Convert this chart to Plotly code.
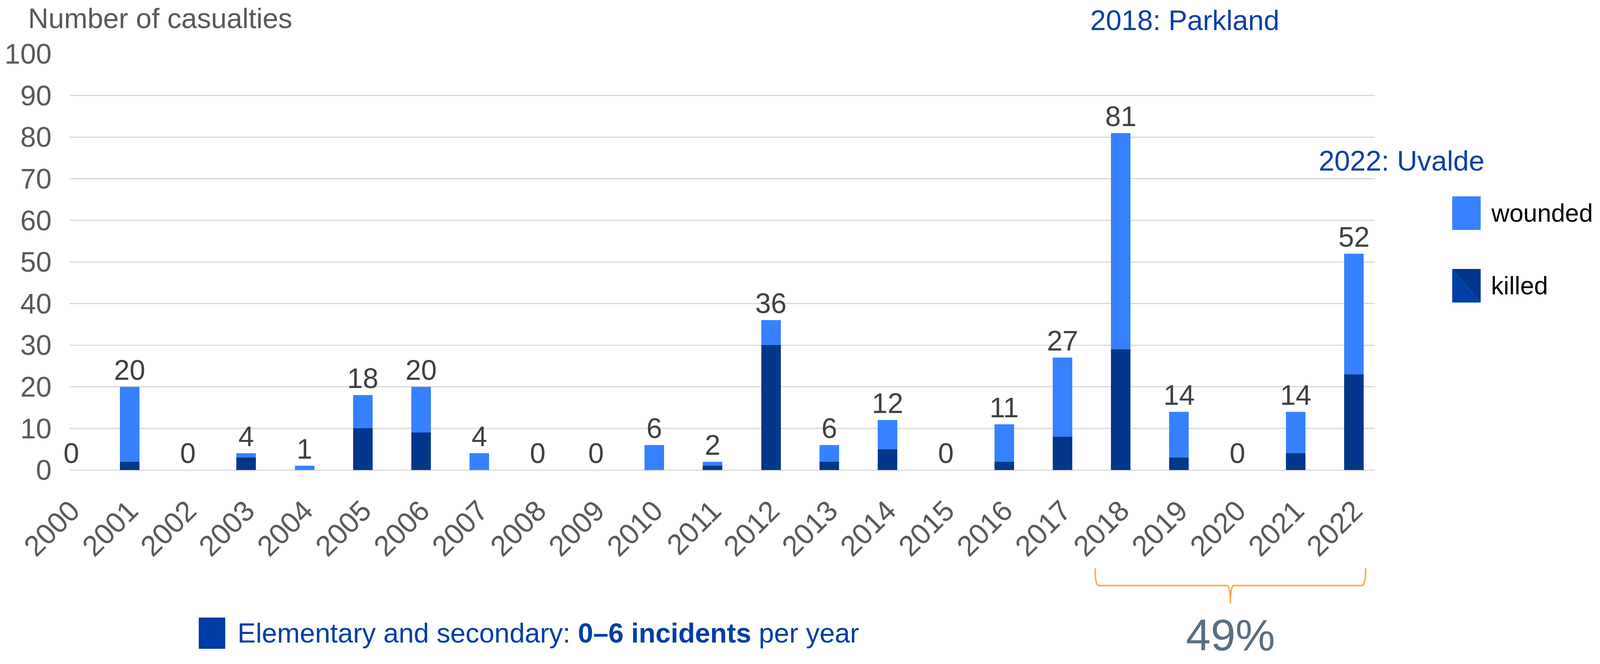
import plotly.graph_objects as go

years = list(range(2000, 2023))
total = [0, 20, 0, 4, 1, 18, 20, 4, 0, 0, 6, 2, 36, 6, 12, 0, 11, 27, 81, 14, 0, 14, 52]
killed = [0, 2, 0, 3, 0, 10, 9, 0, 0, 0, 0, 1, 30, 2, 5, 0, 2, 8, 29, 3, 0, 4, 23]
wounded = [t - k for t, k in zip(total, killed)]
y_ticks = list(range(0, 101, 10))

C_WOUND = "#3681FF"
C_KILL = "#00378A"
C_KILL2 = "#003FA8"
FONT = "Liberation Sans, Arial, sans-serif"

# reference layout (pixels of a 4817 x 1701 design), scaled to the 4096-wide viewport
REF_W = 4817
W, H = 4096, 1701
S = W / REF_W
REF_L, REF_RIGHT = 200, 4140
T, BOT = 138, 1204
L = round(REF_L * S)
R = W - round(REF_RIGHT * S)
B = H - BOT
FS = 72


def px(xp):  # reference x pixel -> paper
    return (xp - REF_L) / (REF_RIGHT - REF_L)


def py(yp):  # reference y pixel -> paper
    return (BOT - yp) / (BOT - T)


fig = go.Figure()
fig.add_trace(go.Bar(x=years, y=killed, name="killed", marker_color=C_KILL,
                     width=0.335, marker_line_width=0))
fig.add_trace(go.Bar(x=years, y=wounded, name="wounded", marker_color=C_WOUND,
                     width=0.335, marker_line_width=0))
fig.add_trace(go.Scatter(x=years, y=total, mode="text", text=[str(t) for t in total],
                         textposition="top center", cliponaxis=False,
                         textfont=dict(size=FS, color="#404040", family=FONT),
                         showlegend=False, hoverinfo="skip"))

shapes = []
annotations = []


def note(x, y, text, size, color, xanchor="center", xref="paper"):
    annotations.append(dict(x=x, y=y, xref=xref, yref="paper", showarrow=False,
                            xanchor=xanchor, yanchor="middle", text=text,
                            font=dict(size=size, color=color, family=FONT)))


note(px(73), py(47), "Number of casualties", FS, "#595959", xanchor="left")
note(px(3566), py(52), "2018: Parkland", FS, "#0B3FA8")
note(px(4220), py(412), "2022: Uvalde", FS, "#0B3FA8")


def square(x0, y0, x1, y1, c_lower, c_upper):
    a, b, c, d = px(x0), py(y0), px(x1), py(y1)
    shapes.append(dict(type="path", xref="paper", yref="paper",
                       path=f"M {a},{b} L {a},{d} L {c},{d} Z",
                       fillcolor=c_lower, line=dict(width=0)))
    shapes.append(dict(type="path", xref="paper", yref="paper",
                       path=f"M {a},{b} L {c},{b} L {c},{d} Z",
                       fillcolor=c_upper, line=dict(width=0)))


square(4373, 503, 4459, 589, C_WOUND, C_WOUND)
square(4373, 689, 4459, 775, C_KILL2, C_KILL)
note(px(4488), py(546), "wounded", 64, "#000000", xanchor="left")
note(px(4488), py(732), "killed", 64, "#000000", xanchor="left")

shapes.append(dict(type="rect", xref="paper", yref="paper",
                   x0=px(590), x1=px(670), y0=py(1582), y1=py(1662),
                   fillcolor="#003DA5", line=dict(width=0)))
note(px(704), py(1622), "Elementary and secondary: <b>0–6 incidents</b> per year",
     70, "#003DA5", xanchor="left")

# bracket spanning 2018-2022
xl, xr = 2017.56, 2022.2
xc = (xl + xr) / 2
yt, yh, ytip = py(1456), py(1500), py(1546)
dx = 0.06
shapes.append(dict(type="path", xref="x", yref="paper",
                   path=(f"M {xl},{yt} Q {xl},{yh} {xl+dx},{yh} L {xc-dx},{yh} "
                         f"Q {xc},{yh} {xc},{ytip} Q {xc},{yh} {xc+dx},{yh} "
                         f"L {xr-dx},{yh} Q {xr},{yh} {xr},{yt}"),
                   line=dict(color="#FBAE3B", width=4)))
note(xc, py(1626), "49%", 114, "#596E80", xref="x")

fig.update_layout(
    width=W, height=H, autosize=False,
    margin=dict(l=L, r=R, t=T, b=B, pad=0),
    barmode="stack", showlegend=False,
    plot_bgcolor="white", paper_bgcolor="white",
    font=dict(family=FONT, size=FS, color="#595959"),
    shapes=shapes, annotations=annotations,
    xaxis=dict(range=[1999.97, 2022.36], tickmode="array", tickvals=years,
               ticktext=[str(y) for y in years], tickangle=-45,
               showgrid=False, zeroline=False, showline=False, ticks="",
               ticklabelstandoff=45,
               tickfont=dict(size=74, color="#595959", family=FONT)),
    yaxis=dict(range=[0, 100], tickmode="array", tickvals=y_ticks,
               showgrid=True, gridcolor="#D9D9D9", gridwidth=2.5,
               zeroline=True, zerolinecolor="#D9D9D9", zerolinewidth=2.5,
               showline=False, ticks="", ticklabelstandoff=45,
               tickfont=dict(size=FS, color="#595959", family=FONT)),
)

post = "document.body.style.margin='0';document.body.style.overflow='hidden';"
fig.write_html("out.html", post_script=post, config={"displayModeBar": False})
